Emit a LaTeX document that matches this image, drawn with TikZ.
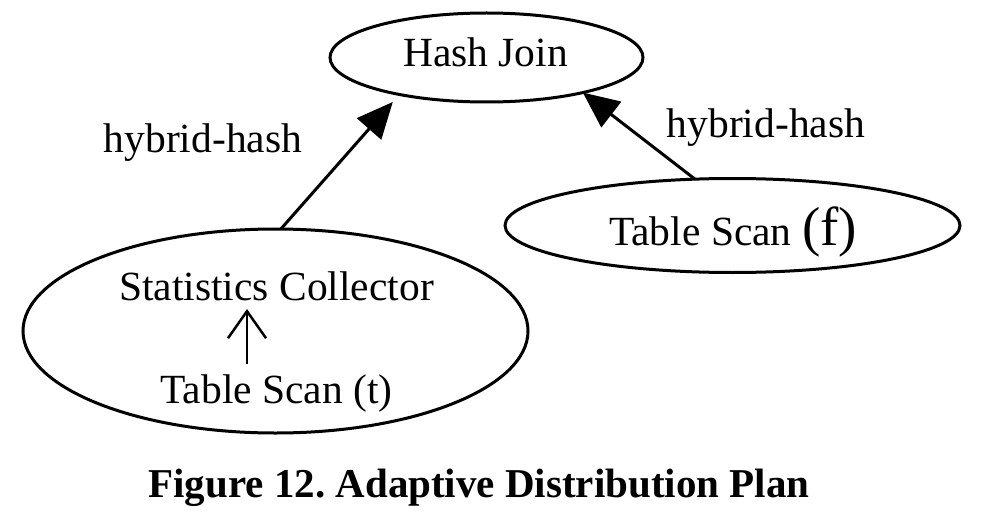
\documentclass[tikz,border=0pt]{standalone}
\usepackage{fontspec}
\setmainfont{Liberation Serif}
\usetikzlibrary{arrows.meta,shapes.geometric}
\frenchspacing
\begin{document}
\begin{tikzpicture}[x=1pt,y=-1pt,
  oval/.style={draw,ellipse,line width=3pt,inner sep=0pt,outer sep=0pt},
  txt/.style={anchor=base,inner sep=0pt,font=\fontsize{41.5}{50}\selectfont},
  edge/.style={line width=3pt,-{Triangle[length=36pt,width=32pt]}},
  inner/.style={line width=2.5pt,-{Straight Barb[length=27pt,width=38pt]}}]
\useasboundingbox (0,0) rectangle (982,524);
% ellipses
\node[oval,minimum width=313pt,minimum height=89pt] (hj) at (486.5,57.5) {};
\node[oval,minimum width=455pt,minimum height=94pt] (tsf) at (732.5,225.5) {};
\node[oval,minimum width=505pt,minimum height=204pt] (sc) at (275.5,331) {};
% texts
\node[txt] (hjt) at (485.5,67) {Hash Join};
\node[txt] (tsft) at (733,245) {Table Scan {\fontsize{55}{60}\selectfont(f)}};
\node[txt] (sct) at (276.5,300) {Statistics Collector};
\node[txt] (stt) at (276.5,403) {Table Scan (t)};
\node[txt] (l1) at (203,153) {hybrid-hash};
\node[txt] (l2) at (766,138) {hybrid-hash};
\node[anchor=base,inner sep=0pt,font=\fontsize{41}{50}\selectfont\bfseries] (cap) at (479,497) {Figure 12. Adaptive Distribution Plan};
% inner arrow
\coordinate (ia) at (247,364);
\coordinate (ib) at (247,309);
\draw[inner] (ia) -- (ib);
% edges
\draw[edge,shorten >=10pt] (sc.87.5) -- (hj.203);
\draw[edge] (tsf.129) -- (hj.340);
\end{tikzpicture}
\end{document}
